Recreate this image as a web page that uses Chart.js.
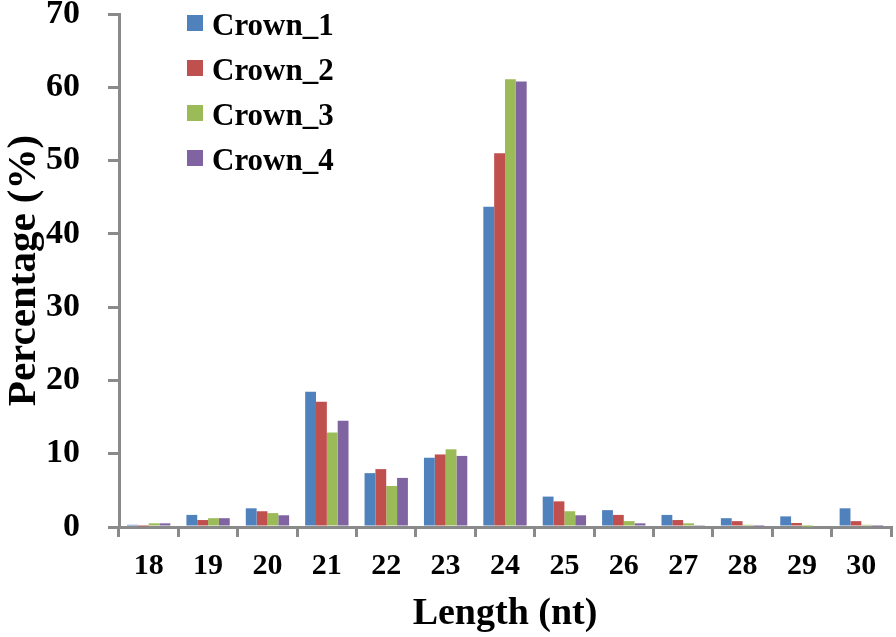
<!DOCTYPE html>
<html>
<head>
<meta charset="utf-8">
<script src="https://cdn.jsdelivr.net/npm/chart.js@4/dist/chart.umd.min.js"></script>
<style>
html,body{margin:0;padding:0;background:#fff;}
#wrap{width:896px;height:637px;position:relative;}
</style>
</head>
<body>
<div id="wrap"><canvas id="c" width="896" height="637"></canvas></div>
<script>
const categories = ['18','19','20','21','22','23','24','25','26','27','28','29','30'];
const crown1 = [0.3, 1.65, 2.55, 18.45, 7.35, 9.45, 43.7, 4.15, 2.3, 1.65, 1.2, 1.45, 2.55];
const crown2 = [0.1, 0.95, 2.15, 17.1, 7.9, 9.9, 51.0, 3.5, 1.65, 0.95, 0.8, 0.55, 0.8];
const crown3 = [0.5, 1.2, 1.9, 12.9, 5.6, 10.6, 61.1, 2.15, 0.8, 0.5, 0.3, 0.05, 0.3];
const crown4 = [0.5, 1.2, 1.6, 14.5, 6.7, 9.7, 60.8, 1.6, 0.5, 0.25, 0.1, 0.0, 0.1];
const seriesNames = ['Crown_1','Crown_2','Crown_3','Crown_4'];
const seriesColors = ['#4F81BD','#C0504D','#9BBB59','#8064A2'];
const yTicks = [0,10,20,30,40,50,60,70];

const FONT = '"Liberation Serif", "Times New Roman", serif';
const AXIS = '#8A8A8A';

const legendInside = {
  id: 'legendInside',
  afterDraw(chart) {
    const ctx = chart.ctx;
    ctx.save();
    ctx.font = 'bold 31px ' + FONT;
    ctx.textBaseline = 'alphabetic';
    chart.data.datasets.forEach((ds, i) => {
      const y = 23 + i * 45;
      ctx.fillStyle = ds.backgroundColor;
      ctx.fillRect(187, y - 8, 16, 16);
      ctx.fillStyle = '#000';
      ctx.fillText(ds.label, 212, y + 12);
    });
    ctx.restore();
  }
};

const datasets = [crown1, crown2, crown3, crown4].map((d, i) => ({
  label: seriesNames[i],
  data: d,
  backgroundColor: seriesColors[i],
  borderWidth: 0,
  categoryPercentage: 0.73,
  barPercentage: 1.0
}));

new Chart(document.getElementById('c'), {
  type: 'bar',
  data: { labels: categories, datasets },
  options: {
    responsive: false,
    animation: false,
    layout: { padding: { left: 0, right: 5, top: 14, bottom: 0 } },
    plugins: { legend: { display: false }, tooltip: { enabled: false } },
    scales: {
      x: {
        grid: { display: true, drawOnChartArea: false, drawTicks: true, tickLength: 10, color: AXIS, lineWidth: 3, offset: true },
        border: { display: true, color: AXIS, width: 3 },
        ticks: { color: '#000', font: { family: FONT, size: 30, weight: 'bold' }, padding: 11, maxRotation: 0 },
        title: { display: true, text: 'Length (nt)', color: '#000', font: { family: FONT, size: 38, weight: 'bold' }, padding: { top: 0, bottom: 0 } },
        afterFit(scale) { scale.height = 110; scale.paddingLeft = 0; scale.paddingRight = 0; }
      },
      y: {
        min: 0, max: 70,
        afterBuildTicks(scale) { scale.ticks = yTicks.map(v => ({ value: v })); },
        grid: { display: true, drawOnChartArea: false, drawTicks: true, tickLength: 11, color: AXIS, lineWidth: 3 },
        border: { display: true, color: AXIS, width: 3 },
        ticks: { color: '#000', font: { family: FONT, size: 34, weight: 'bold' }, padding: 28 },
        title: { display: true, text: 'Percentage (%)', color: '#000', font: { family: FONT, size: 41, weight: 'bold' }, padding: { top: 0, bottom: 0 } },
        afterFit(scale) { scale.width = 119; scale.paddingTop = 0; scale.paddingBottom = 0; }
      }
    }
  },
  plugins: [legendInside]
});
</script>
</body>
</html>
